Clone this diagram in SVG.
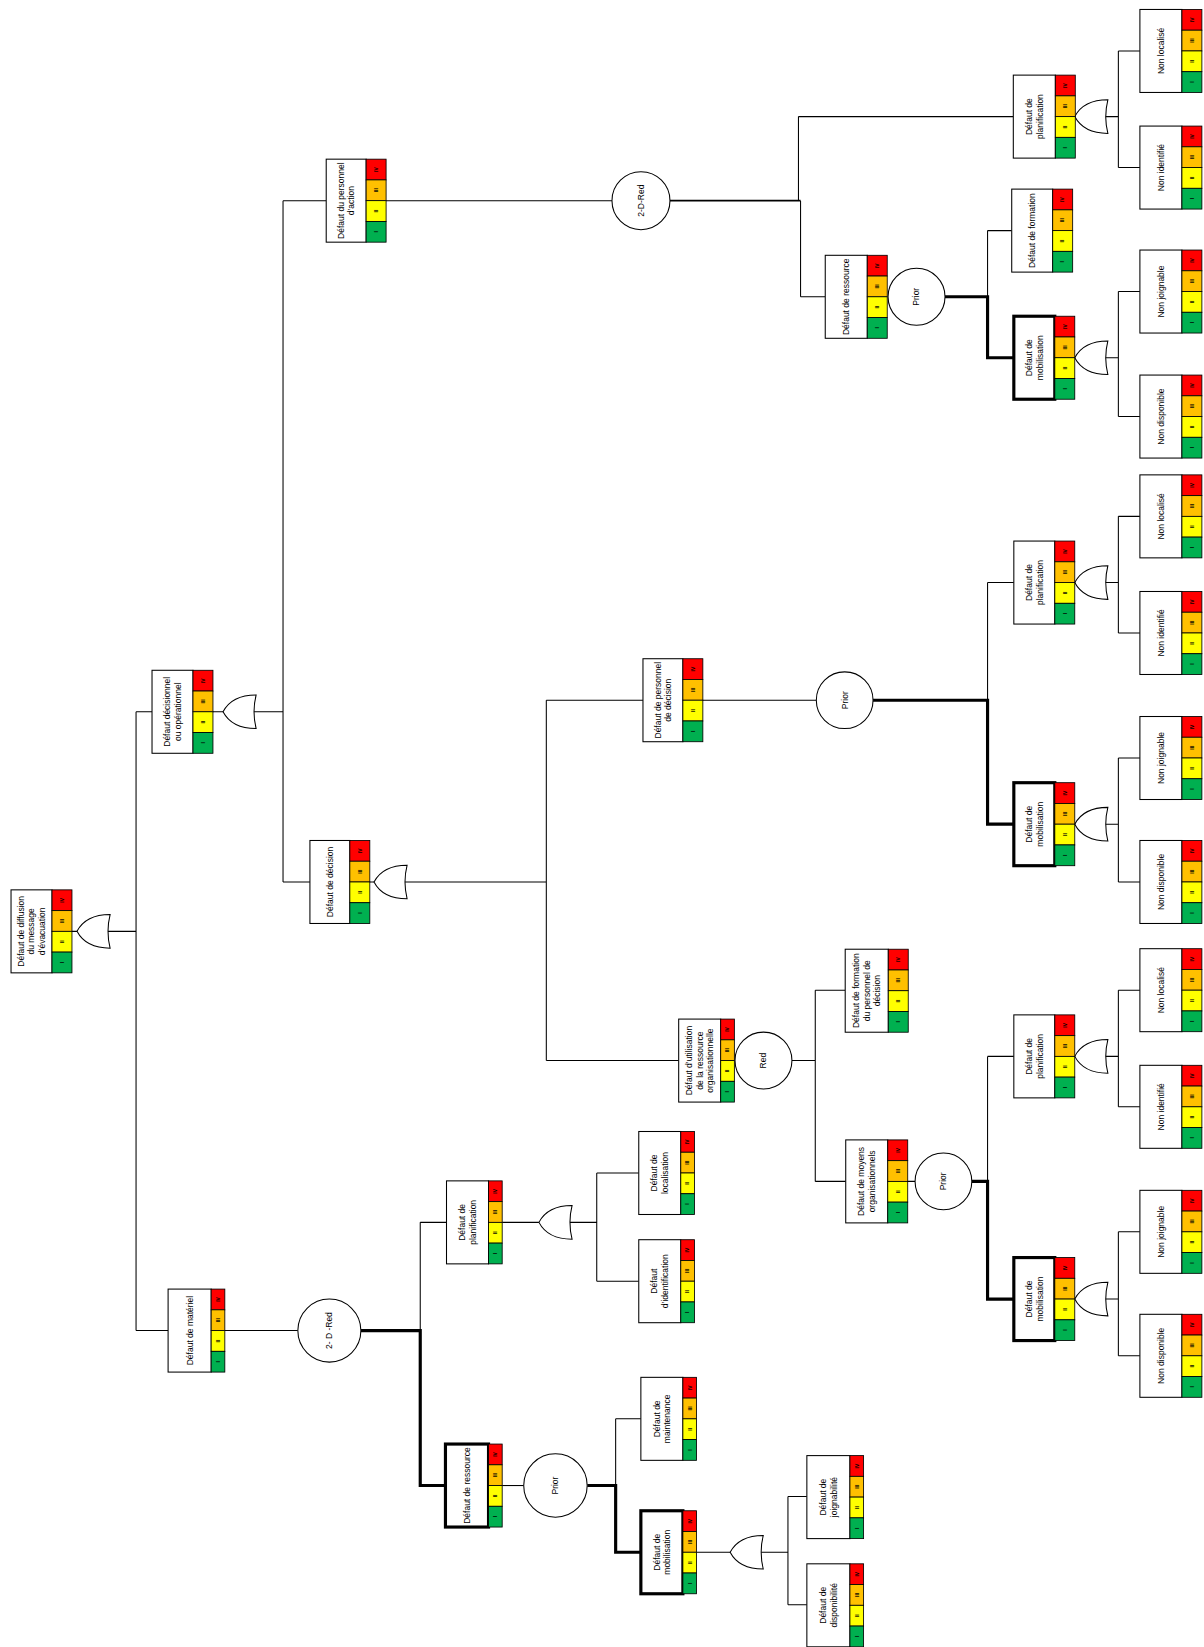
<svg xmlns="http://www.w3.org/2000/svg" width="1204" height="1647" viewBox="0 0 1204 1647">
<style>
.box{fill:#fff;stroke:#000;stroke-width:1}
.b{stroke-width:3}
.r,.o,.yl,.gr{stroke:#000;stroke-width:0.8}
.r{fill:#FF0000}.o{fill:#FFC000}.yl{fill:#FFFF00}.gr{fill:#00B050}
.t{font-family:"Liberation Sans",Arial,sans-serif;font-size:8.1px;text-anchor:middle;fill:#000}
.s{font-family:"Liberation Sans",Arial,sans-serif;font-size:4.8px;font-weight:bold;text-anchor:middle;fill:#000}
.c{fill:#fff;stroke:#000;stroke-width:1}
.gate{fill:#fff;stroke:#000;stroke-width:1}
.ln{fill:none;stroke:#000;stroke-width:1}
.lb{fill:none;stroke:#000;stroke-width:3}
</style>
<defs>
<g id="sw">
<rect class="r" width="19" height="19.75"/>
<rect class="o" y="19.75" width="19" height="19.75"/>
<rect class="yl" y="39.5" width="19" height="19.75"/>
<rect class="gr" y="59.25" width="19" height="19.75"/>
<text class="s" transform="translate(9.5,9.9) rotate(-90)" y="1.7">IV</text>
<text class="s" transform="translate(9.5,29.6) rotate(-90)" y="1.7">III</text>
<text class="s" transform="translate(9.5,49.4) rotate(-90)" y="1.7">II</text>
<text class="s" transform="translate(9.5,69.1) rotate(-90)" y="1.7">I</text>
</g>
<g id="sn">
<rect class="r" width="13" height="19.75"/>
<rect class="o" y="19.75" width="13" height="19.75"/>
<rect class="yl" y="39.5" width="13" height="19.75"/>
<rect class="gr" y="59.25" width="13" height="19.75"/>
<text class="s" transform="translate(6.5,9.9) rotate(-90)" y="1.7">IV</text>
<text class="s" transform="translate(6.5,29.6) rotate(-90)" y="1.7">III</text>
<text class="s" transform="translate(6.5,49.4) rotate(-90)" y="1.7">II</text>
<text class="s" transform="translate(6.5,69.1) rotate(-90)" y="1.7">I</text>
</g>
<path id="gate" class="gate" d="M31.5,-16 Q27.5,0 31.5,16 C14,16 4.6,8.8 0,0 C4.6,-8.8 14,-16 31.5,-16 Z"/>
</defs>
<rect width="1204" height="1647" fill="#fff"/>
<g transform="scale(1.0506)">
<g id="connectors">
<path class="ln" d="M68.5,886.5 H73.3 M101,886.5 H129.5 M129.5,677.5 V1266.5 M129.5,677.5 H144.7 M129.5,1266.5 H160"/>
<path class="ln" d="M202.7,677.5 H212.3 M240,677.5 H269.4 M269.4,191 V839.5 M269.4,191 H310.5 M269.4,839.5 H295"/>
<path class="ln" d="M367.5,191 H582.5"/>
<path class="ln" style="stroke-width:1.6" d="M637.7,191 H762"/>
<path class="ln" d="M760,111 V191 M762,191 V282.5 M760,111 H964.5 M762,282.5 H785.5"/>
<path class="lb" d="M899.5,282.5 H940 V340.5 H965"/>
<path class="ln" d="M940,219.5 V282.5 M940,219.5 H963"/>
<path class="ln" d="M352,839.5 H356 M384,839.5 H520 M520,666.5 V1009.5 M520,666.5 H612 M520,1009.5 H646"/>
<path class="ln" d="M669,666.5 H777"/>
<path class="lb" d="M831,666.5 H940 V784.5 H965"/>
<path class="ln" d="M940,554.5 V666.5 M940,554.5 H965"/>
<path class="ln" d="M753.8,1009.5 H776 M776,942.5 V1124.5 M776,942.5 H804.5 M776,1124.5 H805 M864,1124.5 H871"/>
<path class="lb" d="M925,1124.5 H940 V1236.5 H965"/>
<path class="ln" d="M940,1005.5 V1124.5 M940,1005.5 H965"/>
<path class="ln" d="M1051,111 H1064.5 M1064.5,48.5 V159.5 M1064.5,48.5 H1085 M1064.5,159.5 H1085"/>
<path class="ln" d="M1051,340.5 H1064.5 M1064.5,277.5 V396.5 M1064.5,277.5 H1085 M1064.5,396.5 H1085"/>
<path class="ln" d="M1051,554.5 H1064.5 M1064.5,491.5 V602.5 M1064.5,491.5 H1085 M1064.5,602.5 H1085"/>
<path class="ln" d="M1051,784.5 H1064.5 M1064.5,721.5 V839.5 M1064.5,721.5 H1085 M1064.5,839.5 H1085"/>
<path class="ln" d="M1051,1005.5 H1064.5 M1064.5,942.5 V1053.5 M1064.5,942.5 H1085 M1064.5,1053.5 H1085"/>
<path class="ln" d="M1051,1236.5 H1064.5 M1064.5,1172.5 V1290.5 M1064.5,1172.5 H1085 M1064.5,1290.5 H1085"/>
<path class="ln" d="M214,1266.5 H283.5"/>
<path class="lb" d="M343.5,1266.5 H400 V1414 H424"/>
<path class="ln" d="M400,1163.5 V1266.5 M400,1163.5 H425"/>
<path class="ln" d="M478,1163.5 H513 M541,1163.5 H568 M568,1116.5 V1219.5 M568,1116.5 H608 M568,1219.5 H608"/>
<path class="ln" d="M478,1414 H498.5"/>
<path class="lb" d="M559,1414 H586 V1477.5 H610"/>
<path class="ln" d="M586,1350.5 V1414 M586,1350.5 H610"/>
<path class="ln" d="M663,1477.5 H695 M723,1477.5 H750 M750,1424.5 V1527.5 M750,1424.5 H768 M750,1527.5 H768"/>
</g>
<g id="gates">
<use href="#gate" x="73.3" y="886.5"/>
<use href="#gate" x="212.3" y="677.5"/>
<use href="#gate" x="356" y="839.5"/>
<use href="#gate" x="513" y="1163.5"/>
<use href="#gate" x="695" y="1477.5"/>
<use href="#gate" x="1023" y="111"/>
<use href="#gate" x="1023" y="340.5"/>
<use href="#gate" x="1023" y="554.5"/>
<use href="#gate" x="1023" y="784.5"/>
<use href="#gate" x="1023" y="1005.5"/>
<use href="#gate" x="1023" y="1236.5"/>
</g>
<g id="c1"><circle class="c" cx="610.1" cy="191" r="27.6"/><text class="t" transform="translate(610.1,191) rotate(-90)" y="2.8">2-D-Red</text></g>
<g id="c2"><circle class="c" cx="872.4" cy="282.5" r="27.1"/><text class="t" transform="translate(872.4,282.5) rotate(-90)" y="2.8">Prior</text></g>
<g id="c3"><circle class="c" cx="804" cy="666.5" r="27"/><text class="t" transform="translate(804,666.5) rotate(-90)" y="2.8">Prior</text></g>
<g id="c4"><circle class="c" cx="726.7" cy="1009.5" r="27.1"/><text class="t" transform="translate(726.7,1009.5) rotate(-90)" y="2.8">Red</text></g>
<g id="c5"><circle class="c" cx="898" cy="1124.5" r="27"/><text class="t" transform="translate(898,1124.5) rotate(-90)" y="2.8">Prior</text></g>
<g id="c6"><circle class="c" cx="313.5" cy="1266.5" r="30"/><text class="t" transform="translate(313.5,1266.5) rotate(-90)" y="2.8">2- D -Red</text></g>
<g id="c7"><circle class="c" cx="528.7" cy="1414" r="30.2"/><text class="t" transform="translate(528.7,1414) rotate(-90)" y="2.8">Prior</text></g>

<g id="n1" transform="translate(10.5,847)"><rect class="box" width="39" height="79"/><use href="#sw" x="39"/><text class="t" transform="translate(19.5,39.5) rotate(-90)"><tspan x="0" y="-7.2">Défaut de diffusion</tspan><tspan x="0" y="2.8">du message</tspan><tspan x="0" y="12.8">d’évacuation</tspan></text></g>
<g id="n2" transform="translate(144.7,638)"><rect class="box" width="39" height="79"/><use href="#sw" x="39"/><text class="t" transform="translate(19.5,39.5) rotate(-90)"><tspan x="0" y="-2.2">Défaut décisionnel</tspan><tspan x="0" y="7.8">ou opérationnel</tspan></text></g>
<g id="n3" transform="translate(310.5,151.5)"><rect class="box" width="38" height="79"/><use href="#sw" x="38"/><text class="t" transform="translate(19,39.5) rotate(-90)"><tspan x="0" y="-2.2">Défaut du personnel</tspan><tspan x="0" y="7.8">d’action</tspan></text></g>
<g id="n4" transform="translate(295,800)"><rect class="box" width="38" height="79"/><use href="#sw" x="38"/><text class="t" transform="translate(19,39.5) rotate(-90)" y="2.8">Défaut de décision</text></g>
<g id="n5" transform="translate(160,1227)"><rect class="box" width="41" height="79"/><use href="#sn" x="41"/><text class="t" transform="translate(20.5,39.5) rotate(-90)" y="2.8">Défaut de matériel</text></g>
<g id="n6" transform="translate(425,1124)"><rect class="box" width="40" height="79"/><use href="#sn" x="40"/><text class="t" transform="translate(20,39.5) rotate(-90)"><tspan x="0" y="-2.2">Défaut de</tspan><tspan x="0" y="7.8">planification</tspan></text></g>
<g id="n7" transform="translate(608,1077)"><rect class="box" width="40" height="79"/><use href="#sn" x="40"/><text class="t" transform="translate(20,39.5) rotate(-90)"><tspan x="0" y="-2.2">Défaut de</tspan><tspan x="0" y="7.8">localisation</tspan></text></g>
<g id="n8" transform="translate(608,1180)"><rect class="box" width="40" height="79"/><use href="#sn" x="40"/><text class="t" transform="translate(20,39.5) rotate(-90)"><tspan x="0" y="-2.2">Défaut</tspan><tspan x="0" y="7.8">d’identification</tspan></text></g>
<g id="n9" transform="translate(424,1374.5)"><rect class="box b" width="41" height="79"/><use href="#sn" x="41"/><text class="t" transform="translate(20.5,39.5) rotate(-90)" y="2.8">Défaut de ressource</text></g>
<g id="n10" transform="translate(610,1311)"><rect class="box" width="40" height="79"/><use href="#sn" x="40"/><text class="t" transform="translate(20,39.5) rotate(-90)"><tspan x="0" y="-2.2">Défaut de</tspan><tspan x="0" y="7.8">maintenance</tspan></text></g>
<g id="n11" transform="translate(610,1438)"><rect class="box b" width="40" height="79"/><use href="#sn" x="40"/><text class="t" transform="translate(20,39.5) rotate(-90)"><tspan x="0" y="-2.2">Défaut de</tspan><tspan x="0" y="7.8">mobilisation</tspan></text></g>
<g id="n12" transform="translate(768,1385.5)"><rect class="box" width="41" height="79"/><use href="#sn" x="41"/><text class="t" transform="translate(20.5,39.5) rotate(-90)"><tspan x="0" y="-2.2">Défaut de</tspan><tspan x="0" y="7.8">joignabilité</tspan></text></g>
<g id="n13" transform="translate(768,1488.5)"><rect class="box" width="41" height="79"/><use href="#sn" x="41"/><text class="t" transform="translate(20.5,39.5) rotate(-90)"><tspan x="0" y="-2.2">Défaut de</tspan><tspan x="0" y="7.8">disponibilité</tspan></text></g>
<g id="n14" transform="translate(612,627)"><rect class="box" width="38" height="79"/><use href="#sw" x="38"/><text class="t" transform="translate(19,39.5) rotate(-90)"><tspan x="0" y="-2.2">Défaut de personnel</tspan><tspan x="0" y="7.8">de décision</tspan></text></g>
<g id="n15" transform="translate(965,515)"><rect class="box" width="39" height="79"/><use href="#sw" x="39"/><text class="t" transform="translate(19.5,39.5) rotate(-90)"><tspan x="0" y="-2.2">Défaut de</tspan><tspan x="0" y="7.8">planification</tspan></text></g>
<g id="n16" transform="translate(1085,452)"><rect class="box" width="40" height="79"/><use href="#sw" x="40"/><text class="t" transform="translate(20,39.5) rotate(-90)" y="2.8">Non localisé</text></g>
<g id="n17" transform="translate(1085,563)"><rect class="box" width="40" height="79"/><use href="#sw" x="40"/><text class="t" transform="translate(20,39.5) rotate(-90)" y="2.8">Non identifié</text></g>
<g id="n18" transform="translate(965,745)"><rect class="box b" width="39" height="79"/><use href="#sw" x="39"/><text class="t" transform="translate(19.5,39.5) rotate(-90)"><tspan x="0" y="-2.2">Défaut de</tspan><tspan x="0" y="7.8">mobilisation</tspan></text></g>
<g id="n19" transform="translate(1085,682)"><rect class="box" width="40" height="79"/><use href="#sw" x="40"/><text class="t" transform="translate(20,39.5) rotate(-90)" y="2.8">Non joignable</text></g>
<g id="n20" transform="translate(1085,800)"><rect class="box" width="40" height="79"/><use href="#sw" x="40"/><text class="t" transform="translate(20,39.5) rotate(-90)" y="2.8">Non disponible</text></g>
<g id="n21" transform="translate(646,970)"><rect class="box" width="40" height="79"/><use href="#sn" x="40"/><text class="t" transform="translate(20,39.5) rotate(-90)"><tspan x="0" y="-7.2">Défaut d’utilisation</tspan><tspan x="0" y="2.8">de la ressource</tspan><tspan x="0" y="12.8">organisationnelle</tspan></text></g>
<g id="n22" transform="translate(804.5,903.5)"><rect class="box" width="41" height="79"/><use href="#sw" x="41"/><text class="t" transform="translate(20.5,39.5) rotate(-90)"><tspan x="0" y="-7.2">Défaut de formation</tspan><tspan x="0" y="2.8">du personnel de</tspan><tspan x="0" y="12.8">décision</tspan></text></g>
<g id="n23" transform="translate(805,1085)"><rect class="box" width="40" height="79"/><use href="#sw" x="40"/><text class="t" transform="translate(20,39.5) rotate(-90)"><tspan x="0" y="-2.2">Défaut de moyens</tspan><tspan x="0" y="7.8">organisationnels</tspan></text></g>
<g id="n24" transform="translate(965,966)"><rect class="box" width="39" height="79"/><use href="#sw" x="39"/><text class="t" transform="translate(19.5,39.5) rotate(-90)"><tspan x="0" y="-2.2">Défaut de</tspan><tspan x="0" y="7.8">planification</tspan></text></g>
<g id="n25" transform="translate(1085,903)"><rect class="box" width="40" height="79"/><use href="#sw" x="40"/><text class="t" transform="translate(20,39.5) rotate(-90)" y="2.8">Non localisé</text></g>
<g id="n26" transform="translate(1085,1014)"><rect class="box" width="40" height="79"/><use href="#sw" x="40"/><text class="t" transform="translate(20,39.5) rotate(-90)" y="2.8">Non identifié</text></g>
<g id="n27" transform="translate(965,1197)"><rect class="box b" width="39" height="79"/><use href="#sw" x="39"/><text class="t" transform="translate(19.5,39.5) rotate(-90)"><tspan x="0" y="-2.2">Défaut de</tspan><tspan x="0" y="7.8">mobilisation</tspan></text></g>
<g id="n28" transform="translate(1085,1133)"><rect class="box" width="40" height="79"/><use href="#sw" x="40"/><text class="t" transform="translate(20,39.5) rotate(-90)" y="2.8">Non joignable</text></g>
<g id="n29" transform="translate(1085,1251)"><rect class="box" width="40" height="79"/><use href="#sw" x="40"/><text class="t" transform="translate(20,39.5) rotate(-90)" y="2.8">Non disponible</text></g>
<g id="n30" transform="translate(785.5,243)"><rect class="box" width="40" height="79"/><use href="#sw" x="40"/><text class="t" transform="translate(20,39.5) rotate(-90)" y="2.8">Défaut de ressource</text></g>
<g id="n31" transform="translate(963,180)"><rect class="box" width="39" height="79"/><use href="#sw" x="39"/><text class="t" transform="translate(19.5,39.5) rotate(-90)" y="2.8">Défaut de formation</text></g>
<g id="n32" transform="translate(965,301)"><rect class="box b" width="39" height="79"/><use href="#sw" x="39"/><text class="t" transform="translate(19.5,39.5) rotate(-90)"><tspan x="0" y="-2.2">Défaut de</tspan><tspan x="0" y="7.8">mobilisation</tspan></text></g>
<g id="n33" transform="translate(1085,238)"><rect class="box" width="40" height="79"/><use href="#sw" x="40"/><text class="t" transform="translate(20,39.5) rotate(-90)" y="2.8">Non joignable</text></g>
<g id="n34" transform="translate(1085,357)"><rect class="box" width="40" height="79"/><use href="#sw" x="40"/><text class="t" transform="translate(20,39.5) rotate(-90)" y="2.8">Non disponible</text></g>
<g id="n35" transform="translate(964.5,71.5)"><rect class="box" width="40" height="79"/><use href="#sw" x="40"/><text class="t" transform="translate(20,39.5) rotate(-90)"><tspan x="0" y="-2.2">Défaut de</tspan><tspan x="0" y="7.8">planification</tspan></text></g>
<g id="n36" transform="translate(1085,9)"><rect class="box" width="40" height="79"/><use href="#sw" x="40"/><text class="t" transform="translate(20,39.5) rotate(-90)" y="2.8">Non localisé</text></g>
<g id="n37" transform="translate(1085,120)"><rect class="box" width="40" height="79"/><use href="#sw" x="40"/><text class="t" transform="translate(20,39.5) rotate(-90)" y="2.8">Non identifié</text></g>
</g>
</svg>
